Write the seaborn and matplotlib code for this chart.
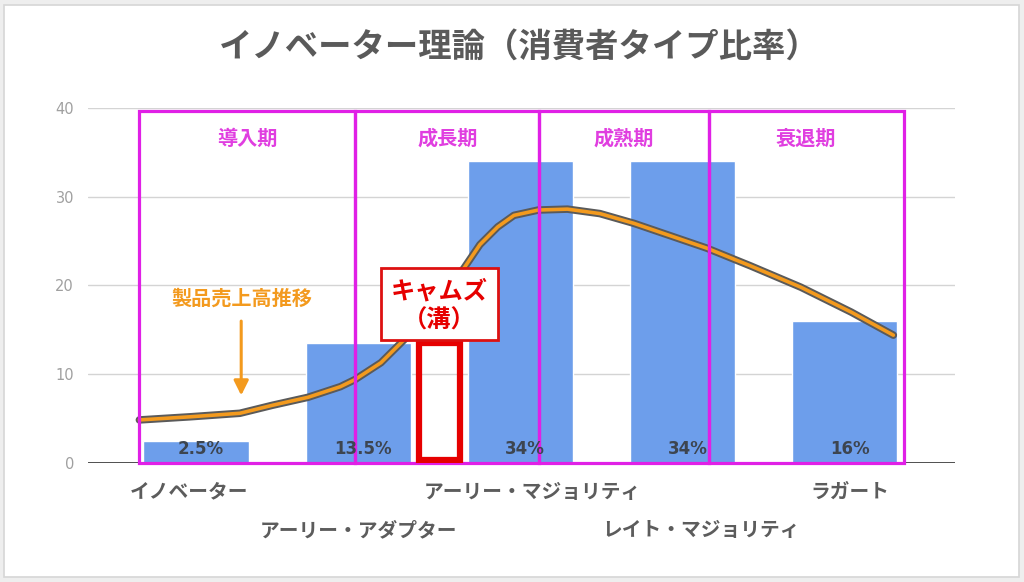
#Libraries
import matplotlib
matplotlib.use("Agg")
import matplotlib.pyplot as plt
import matplotlib.patheffects as pe
from matplotlib.patches import Rectangle
import seaborn as sns

#Data
consumer_types = ["イノベーター", "アーリー・アダプター", "アーリー・マジョリティ", "レイト・マジョリティ", "ラガート"]
type_share = [2.5, 13.5, 34, 34, 16]
phases = ["導入期", "成長期", "成熟期", "衰退期"]
chasm_height = 13.2

#Sales curve (x in category units)
sales_x = [-0.35, -0.04, 0.27, 0.47, 0.69, 0.89, 0.98, 1.14, 1.30, 1.48, 1.65, 1.75,
           1.86, 1.96, 2.11, 2.29, 2.49, 2.70, 3.15, 3.42, 3.73, 4.04, 4.30]
sales_y = [4.85, 5.2, 5.6, 6.5, 7.4, 8.6, 9.4, 11.3, 14.2, 18.1, 21.9, 24.6,
           26.6, 27.9, 28.5, 28.6, 28.1, 27.0, 24.2, 22.2, 19.8, 17.0, 14.4]

#Styling
sns.set_theme(style="white")
plt.rcParams["font.family"] = ["Noto Sans CJK JP", "DejaVu Sans"]

BAR_BLUE = "#6d9eeb"
MAGENTA = "#e020e6"
RED = "#e60000"
ORANGE = "#f39a1e"

fig = plt.figure(figsize=(10.24, 5.82), dpi=100)
fig.patch.set_facecolor("#eeeeee")
fig.patches.append(Rectangle((0.004, 0.008), 0.991, 0.984, transform=fig.transFigure,
                             facecolor="white", edgecolor="#d6d6d6", lw=1.2, zorder=-10))
ax = fig.add_axes([0.0859, 0.2045, 0.8467, 0.61])
ax.set_facecolor("none")

#Bars
sns.barplot(x=consumer_types, y=type_share, color=BAR_BLUE, saturation=1, width=0.65, ax=ax, zorder=2)
ax.set_xlim(-0.667, 4.68)
ax.set_ylim(0, 40)
ax.set_yticks([0, 10, 20, 30, 40])
ax.grid(axis="y", color="#d4d4d4", lw=1, zorder=0)
ax.grid(axis="x", visible=False)
for s in ax.spines.values():
    s.set_visible(False)
ax.axhline(0, color="#333333", lw=1.2, zorder=3)
ax.tick_params(axis="x", length=0, labelbottom=False)
ax.tick_params(axis="y", length=0, pad=10, labelsize=10.5, labelcolor="#a0a0a0")
for t in ax.get_yticklabels():
    t.set_family("DejaVu Sans")
ax.set_xlabel("")
ax.set_ylabel("")

#Bar value labels
for i, v in enumerate(type_share):
    ax.text(i + 0.03, 1.6, f"{v:g}%", ha="center", va="center", fontsize=12, fontweight="bold",
            family="DejaVu Sans", color="#3d4550", zorder=6)

#Category labels on two rows (small nudges like the original sheet)
nudge = [-0.045, 0.0, 0.074, 0.111, 0.03]
for i, name in enumerate(consumer_types):
    y = -0.082 if i % 2 == 0 else -0.19
    ax.text(i + nudge[i], y, name, transform=ax.get_xaxis_transform(), ha="center", va="center",
            fontsize=14.2, fontweight="bold", color="#5c5c5c")

#Sales curve
ax.plot(sales_x, sales_y, color=ORANGE, lw=2.6, zorder=4, solid_capstyle="round",
        solid_joinstyle="round",
        path_effects=[pe.Stroke(linewidth=5.4, foreground="#5a5a5a"), pe.Normal()])

#Phase boxes
edges = [-0.352, 0.981, 2.117, 3.16, 4.364]
for k, name in enumerate(phases):
    ax.add_patch(Rectangle((edges[k], -0.05), edges[k + 1] - edges[k], 39.7, fill=False,
                           edgecolor=MAGENTA, lw=2.3, zorder=5, clip_on=False))
    ax.text((edges[k] + edges[k + 1]) / 2, 36.6, name, ha="center", va="center",
            fontsize=14.5, fontweight="bold", color="#e03ee0", zorder=6)

#Chasm
ax.bar(1.5, chasm_height, bottom=0.3, width=0.255, facecolor="none", edgecolor=RED, lw=4.5, zorder=5)
ax.add_patch(Rectangle((1.14, 13.9), 0.72, 8.1, facecolor="white", edgecolor="#dd1111", lw=2, zorder=7))
ax.text(1.5, 17.7, "キャムズ\n（溝）", ha="center", va="center", fontsize=17.5, fontweight="bold",
        color=RED, linespacing=1.25, zorder=8)

#Sales annotation
ax.text(0.284, 18.6, "製品売上高推移", ha="center", va="center", fontsize=14.5, fontweight="bold",
        color=ORANGE, zorder=6)
ax.annotate("", xy=(0.278, 7.3), xytext=(0.278, 16.3),
            arrowprops=dict(arrowstyle="-|>", color=ORANGE, lw=2.2, mutation_scale=22), zorder=6)

#Title
fig.text(0.5 + 7 / 1024, 1 - 47 / 582, "イノベーター理論（消費者タイプ比率）", ha="center", va="center",
         fontsize=24, fontweight="bold", color="#5a5a5a")

plt.savefig("out.png", dpi=100)
